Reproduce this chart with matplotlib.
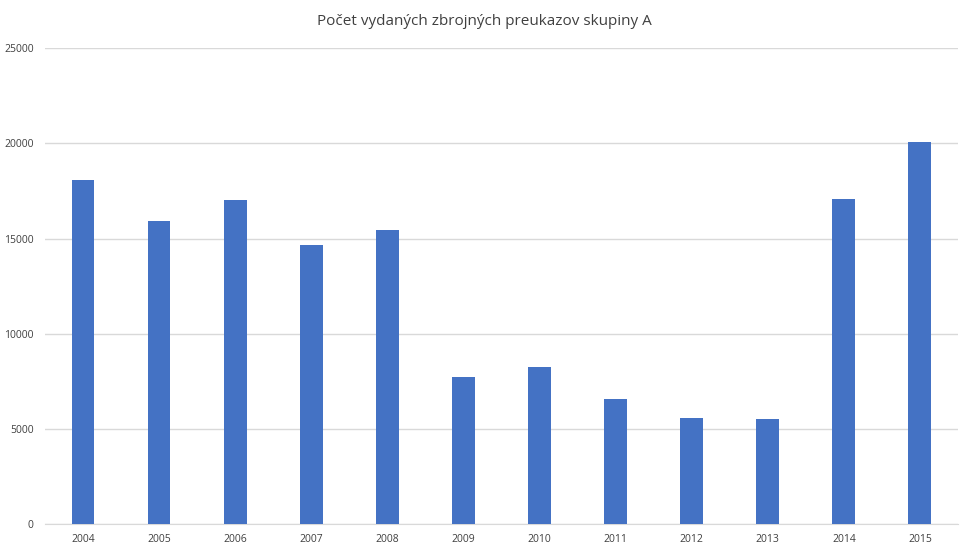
import matplotlib
matplotlib.use('Agg')
import matplotlib.pyplot as plt
import numpy as np

years = ['2004', '2005', '2006', '2007', '2008', '2009',
         '2010', '2011', '2012', '2013', '2014', '2015']
counts = [18060, 15910, 17020, 14670, 15450, 7740,
          8260, 6550, 5580, 5500, 17090, 20100]
yTicks = [0, 5000, 10000, 15000, 20000, 25000]

plt.rcParams['font.family'] = ['Open Sans', 'DejaVu Sans']

fig = plt.figure(figsize=(9.69, 5.53), dpi=100)
ax = fig.add_axes([0.0464, 0.0524, 0.9422, 0.8603])

x = np.arange(len(years))
ax.bar(x, counts, width=0.30, color='#4472C4', zorder=3)

ax.set_xlim(-0.5, len(years) - 0.5)
ax.set_ylim(0, 25000)
ax.set_yticks(yTicks)
ax.set_yticklabels([str(v) for v in yTicks])
ax.set_xticks(x)
ax.set_xticklabels(years)
ax.tick_params(axis='both', length=0, labelsize=7.5, labelcolor='#404040')
ax.tick_params(axis='y', pad=8)
ax.tick_params(axis='x', pad=7)

ax.grid(axis='y', color='#d9d9d9', linewidth=1, zorder=0)
for side in ['top', 'right', 'left']:
    ax.spines[side].set_visible(False)
ax.spines['bottom'].set_color('#d9d9d9')

fig.text(0.5, 0.962, 'Počet vydaných zbrojných preukazov skupiny A',
         ha='center', va='center', fontsize=11, color='#404040')

fig.savefig('out.png', dpi=100)
